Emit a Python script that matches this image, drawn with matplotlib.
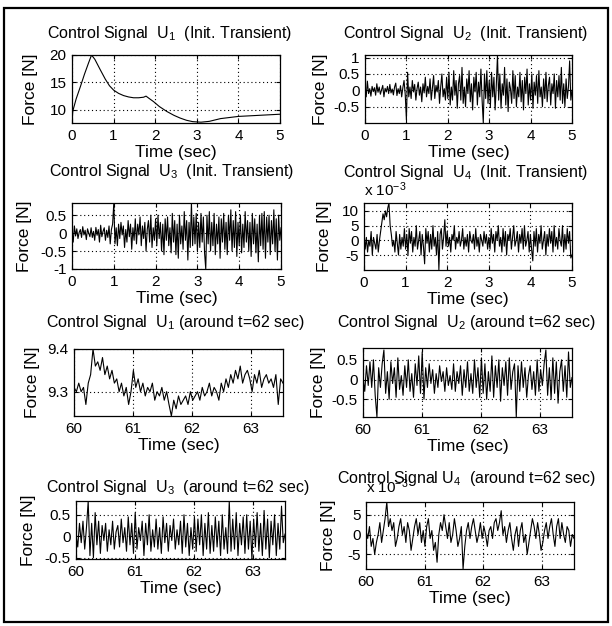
import numpy as np
import matplotlib
matplotlib.use("Agg")
import matplotlib.pyplot as plt
from matplotlib.patches import Rectangle

plt.rcParams['font.family'] = ['Liberation Sans', 'DejaVu Sans']
plt.rcParams['mathtext.fontset'] = 'custom'
plt.rcParams['mathtext.rm'] = 'Liberation Sans'
plt.rcParams['mathtext.it'] = 'Liberation Sans'

W, H = 612, 626

# U1 initial transient (smooth)
u1_init_t = [0, 0.02, 0.1, 0.2, 0.3, 0.4, 0.47, 0.55, 0.68, 0.8, 0.9, 1.0, 1.12, 1.24,
             1.36, 1.48, 1.6, 1.72, 1.78, 1.85, 1.96, 2.1, 2.28, 2.45, 2.6, 2.75, 2.9,
             3.1, 3.3, 3.57, 4.0, 4.5, 5.0]
u1_init = [8.0, 9.8, 12.0, 14.2, 16.5, 18.6, 20.0, 19.2, 17.3, 15.6, 14.4, 13.6, 13.0, 12.6,
           12.35, 12.2, 12.2, 12.3, 12.5, 12.1, 11.5, 10.6, 9.7, 9.0, 8.5, 8.1, 7.85,
           7.75, 7.9, 8.4, 8.8, 9.0, 9.2]

u2_init = [0.0, -0.2, 0.28, -0.1, 0.05, -0.18, 0.12, -0.04, 0.08, -0.15, 0.2, -0.06, 0.1, -0.12,
           0.02, 0.15, -0.2, 0.06, -0.05, 0.12, -0.1, 0.18, -0.08, 0.04, -0.14, 0.1, 0.22, -0.16,
           0.05, -0.1, 0.14, -0.2, 0.08, 0.3, -0.12,
           -0.9, 0.55, -0.2, 0.1, -0.25, 0.3, -0.05, 0.18, -0.3, 0.05, 0.25, -0.15, 0.1, -0.35,
           0.2, -0.08, 0.4, -0.2, 0.12, -0.1, 0.35, -0.3, 0.06, 0.45, -0.25, 0.15, -0.05, 0.3,
           -0.4, 0.1, 0.5, -0.2, 0.05, -0.3, 0.4,
           -0.25, 0.55, -0.45, 0.1, -0.3, 0.6, -0.15, 0.3, -0.55, 0.2, 0.45, -0.3, 0.7, -0.4,
           0.1, -0.5, 0.35, -0.1, 0.6, -0.35, 0.2, -0.6, 0.4, -0.05, 0.55, -0.45, 0.25, -0.2,
           0.65, -0.3, -1.0, 0.5, -0.25, 0.6, -0.4,
           0.3, -0.5, 0.55, -0.2, 0.4, -0.6, 0.15, 1.08, -0.3, 0.5, -0.55, 0.2, -0.15, 0.7,
           -0.45, 0.35, -0.65, 0.25, 0.05, -0.4, 0.6, -0.25, 0.45, -0.5, 0.1, -0.2, 0.55, -0.35,
           0.3, -0.6, 0.4, -0.1, 0.65, -0.45, 0.2,
           -0.3, 0.5, -0.55, 0.25, -0.15, 0.45, -0.4, 0.6, -0.2, 0.1, -0.5, 0.35, -0.25, 0.55,
           -0.35, 0.15, 0.4, -0.45, 0.2, -0.1, 0.5, -0.55, 0.3, -0.2, 0.45, -0.3, 0.7, -0.4,
           0.2, -0.5, 0.35, -0.25, 0.1, 0.9, -0.3, 0.0]

u3_init = [0.05, -0.25, 0.2, -0.08, 0.12, -0.15, 0.02, 0.1, -0.12, 0.18, -0.05, 0.08, -0.18,
           0.12, 0.0, -0.1, 0.15, -0.12, 0.05, -0.2, 0.16, -0.06, 0.1, -0.25, 0.22, -0.1, 0.05,
           0.15, -0.2, 0.08, -0.12, 0.2, -0.3, 0.1, 0.25,
           0.84, -0.3, 0.15, -0.35, 0.25, -0.15, 0.3, -0.05, 0.2, -0.4, 0.1, -0.25, 0.35, -0.1,
           0.25, -0.45, 0.15, -0.2, 0.4, -0.3, 0.25, -0.05, 0.45, -0.35, 0.2, -0.15, 0.3, -0.5,
           0.1, 0.35, -0.25, 0.5, -0.4, 0.15, -0.2,
           0.4, -0.35, 0.5, -0.15, 0.3, -0.5, 0.25, -0.6, 0.4, -0.2, 0.45, -0.35, 0.15, -0.55,
           0.55, -0.25, 0.35, -0.6, 0.25, -0.7, 0.5, -0.3, 0.2, -0.45, 0.6, -0.2, 0.35, -0.75,
           0.3, -0.4, 0.84, -0.35, 0.45, -0.3, 0.55,
           -0.5, 0.3, -0.4, 0.55, -0.25, 0.45, -0.55, -1.0, 0.5, -0.3, 0.6, -0.5, 0.3, -0.35,
           0.55, -0.6, 0.25, -0.3, 0.45, -0.7, 0.4, -0.25, 0.55, -0.45, 0.3, -0.6, 0.5, -0.2,
           0.65, -0.5, 0.35, -0.4, 0.6, -0.65, 0.3,
           -0.35, 0.5, -0.55, 0.25, -0.4, 0.6, -0.25, 0.35, -0.5, 0.3, -0.65, 0.55, -0.3, 0.4,
           -0.55, 0.25, -0.8, 0.5, -0.35, 0.55, -0.45, 0.6, -0.7, 0.45, -0.25, 0.5, -0.6, 0.35,
           -0.3, 0.65, -0.5, 0.4, -0.75, 0.5, -0.2, 0.15]

# U4 values in units of 1e-3 N
u4_init_e3 = [2, -3, 1, -4, 0, -2, 3, -5, 1, -1, -3, 2, -4, 0, 3, 6, 9, 7, 10, 8, 11, 12.7,
              5, 2, -2, 0, -4, 3, -1, -5, 2, -3, 1, -2, 4,
              -3, 2, -5, 4, -1, 3, -4, 1, -2, 5, -3, 0, 3, -5, 2, -2, -8, 4, -1, 3, -4, 2,
              -3, 5, -2, 1, -5, 3, -10, 2, 4, -3, 1, 7, -2,
              3, -2, 1, -4, 2, 0, 5, -3, 1, -1, 3, -2, 0, 4, -3, 1, -2, 2, -4, 3, 0, -1,
              2, -3, 4, -2, 1, -4, 2, 0, -2, 3, -1, 2, -3,
              1, -3, 4, -1, 2, -4, 3, 0, 5, -2, 1, -4, 4, -2, 3, -5, 2, 0, 4, -3, 1, 5,
              -2, 0, 3, -4, 2, -1, 4, -3, 5, -2, 0, 3, -4,
              2, -3, -7, 3, -2, 4, -4, 2, -1, 5, -3, 0, 3, -5, 2, -2, 4, -1, 3, -4, 5, -2,
              1, -3, 4, 0, -2, 5, -4, 2, -3, 4, -1, 3, -6, -5]

u1_62 = [9.31, 9.30, 9.32, 9.30, 9.31, 9.27,
         9.32, 9.34, 9.40, 9.36, 9.37, 9.35, 9.38,
         9.34, 9.36, 9.33, 9.35, 9.32, 9.33, 9.30, 9.32, 9.29, 9.31, 9.27, 9.30,
         9.35, 9.31, 9.33, 9.30, 9.32, 9.29, 9.31, 9.30, 9.32, 9.28, 9.30, 9.29, 9.31,
         9.28, 9.30, 9.27, 9.243, 9.28, 9.26, 9.29, 9.27, 9.28, 9.29, 9.27, 9.30,
         9.28, 9.29, 9.30, 9.28, 9.31, 9.29, 9.30, 9.32, 9.29, 9.31, 9.30, 9.28, 9.32,
         9.30, 9.33, 9.31, 9.34, 9.32, 9.35, 9.33, 9.36, 9.32, 9.34, 9.35, 9.33,
         9.30, 9.34, 9.32, 9.35, 9.31, 9.33, 9.34, 9.32, 9.33, 9.31, 9.34, 9.27, 9.33, 9.32]

u2_62 = [0.05, -0.3, 0.35, -0.15, 0.45, -0.2, 0.5, -0.4, -0.95, 0.3,
         -0.2, 0.4, 0.75, -0.35, 0.2, -0.5, 0.45, -0.1, 0.3, -0.45,
         0.55, -0.25, 0.1, -0.4, 0.35, -0.2, 0.5, -0.3, 0.15, -0.45,
         0.4, -0.15, 0.6, -0.35, 0.7, -0.5, 0.3, -0.2, 0.4, -0.1,
         0.25, -0.35, 0.15, -0.2, 0.35, -0.05, 0.2, -0.3, 0.3, -0.15,
         0.1, -0.25, 0.4, -0.3, 0.2, -0.1, 0.35, -0.4, 0.25, -0.2,
         0.45, -0.3, 0.15, -0.35, 0.5, -0.2, 0.3, -0.45, 0.55, -0.35,
         0.4, -0.5, 0.2, -0.3, 0.6, -0.45, 0.35, -0.2, 0.5, -0.55,
         0.3, -0.15, 0.45, -0.4, 0.55, -0.25, 0.2, 0.4, -0.95, 0.35,
         -0.3, 0.45, -0.2, 0.3, -0.45, 0.1, 0.35, -0.25, 0.2, -0.4,
         0.5, -0.3, 0.25, -0.15, 0.4, 0.75, -0.4, 0.3, -0.5, 0.55,
         -0.35, 0.45, -0.6, 0.2, 0.5, -0.3, 0.35, -0.45, 0.7, -0.2, 0.05]

u3_62 = [0.05, -0.25, 0.3, -0.15, 0.35, -0.3, 0.2, 0.82, -0.45, 0.3,
         -0.5, 0.55, -0.2, 0.35, -0.4, 0.25, -0.1, 0.3, -0.35, 0.15,
         -0.2, 0.35, -0.3, 0.1, 0.25, -0.25, 0.4, -0.15, 0.2, -0.35,
         0.45, -0.2, 0.3, -0.4, 0.55, -0.3, 0.2, -0.1, 0.35, -0.45,
         0.3, -0.2, 0.5, -0.35, 0.15, -0.25, 0.4, -0.3, 0.2, -0.4,
         0.45, -0.15, 0.3, -0.35, 0.25, -0.1, 0.4, -0.3, 0.15, -0.2,
         0.35, -0.4, 0.5, -0.25, 0.3, -0.45, 0.2, -0.3, 0.45, -0.35,
         0.4, -0.2, 0.5, -0.45, 0.3, -0.3, 0.55, -0.4, 0.25, -0.35,
         0.45, -0.25, 0.35, -0.45, 0.5, -0.3, 0.2, -0.4, 0.82, -0.35,
         0.4, -0.3, 0.55, -0.45, 0.3, -0.2, 0.45, -0.4, 0.5, -0.3,
         0.35, -0.53, 0.4, -0.25, 0.55, -0.35, 0.3, -0.45, 0.6, -0.3,
         0.4, -0.5, 0.35, -0.2, 0.5, -0.45, 0.3, -0.3, 0.7, -0.15, 0.05]

u4_62_e3 = [1, -1, 2, -3, -1, -5, -2, 0, 3, -2,
            1, 4, 8.2, 2, 4, 1, 3, -3, -1, 2,
            4, 0, 2, -2, 3, 1, -4, -1, 2, 4,
            0, 3, -2, 1, -3, 2, 4, -1, 1, -4,
            -2, -7, 0, 3, 1, 5, 2, -1, 3, -2,
            0, 4, 1, -3, -1, 2, -8.7, -3, 1, 3,
            -1, 2, 4, 1, -2, 0, 3, -1, 2, 0,
            -3, 1, 2, -1, 3, 4, 1, 3, 6, 0,
            2, -2, 1, 3, -1, -4, 0, 2, -3, 1,
            3, -2, 0, -5, -2, 1, 4, 2, -1, 3,
            0, -4, -2, 1, 3, -1, 2, 4, 0, -3,
            2, 4, -1, 3, 0, -2, 2, 1, -3, 0, -1]

titles = ['Control Signal  U$_1$  (Init. Transient)',
          'Control Signal  U$_2$  (Init. Transient)',
          'Control Signal  U$_3$  (Init. Transient)',
          'Control Signal  U$_4$  (Init. Transient)',
          'Control Signal  U$_1$ (around t=62 sec)',
          'Control Signal  U$_2$ (around t=62 sec)',
          'Control Signal  U$_3$  (around t=62 sec)',
          'Control Signal U$_4$  (around t=62 sec)']

# axes boxes in pixels: left, top, right, bottom
boxes = [(72, 55, 280, 123), (365, 55, 572, 123),
         (72, 203, 281, 269), (364, 203, 572, 270),
         (74, 349, 283, 416), (363, 348, 572, 417),
         (76, 501, 285, 559), (366, 502, 574, 569)]
title_pos = [(170, 38), (466, 38), (172, 176), (466, 177),
             (176, 327), (467, 327), (178, 492), (467, 483)]
# centre of the rotated y label, in pixels
ylabel_x = [30, 321, 25, 324, 32, 319, 28, 329]

series = [(u1_init_t, u1_init), (None, u2_init), (None, u3_init), (None, u4_init_e3),
          (None, u1_62), (None, u2_62), (None, u3_62), (None, u4_62_e3)]
ylims = [(7.6, 20), (-1.0, 1.08), (-1.0, 0.84), (-10.1, 12.7),
         (9.243, 9.4), (-0.95, 0.8), (-0.53, 0.82), (-8.7, 8.2)]
yticks = [[10, 15, 20], [-0.5, 0, 0.5, 1], [-1, -0.5, 0, 0.5], [-5, 0, 5, 10],
          [9.3, 9.4], [-0.5, 0, 0.5], [-0.5, 0, 0.5], [-5, 0, 5]]
ytlabels = [['10', '15', '20'], ['-0.5', '0', '0.5', '1'], ['-1', '-0.5', '0', '0.5'],
            ['-5', '0', '5', '10'], ['9.3', '9.4'], ['-0.5', '0', '0.5'],
            ['-0.5', '0', '0.5'], ['-5', '0', '5']]

fig = plt.figure(figsize=(W / 100, H / 100), dpi=100)


def px(x, y):
    return x / W, 1 - y / H


for i, (l, t, r, b) in enumerate(boxes):
    ax = fig.add_axes([l / W, 1 - b / H, (r - l) / W, (b - t) / H])
    tt, vals = series[i]
    if i < 4:
        xlim = (0, 5)
        xticks = [0, 1, 2, 3, 4, 5]
    else:
        xlim = (60, 63.55)
        xticks = [60, 61, 62, 63]
    if tt is None:
        tt = np.linspace(xlim[0], xlim[1], len(vals))
    ax.plot(tt, vals, color='black', lw=0.8)
    ax.set_xlim(*xlim)
    ax.set_ylim(*ylims[i])
    ax.set_xticks(xticks)
    ax.set_xticklabels([str(v) for v in xticks])
    ax.set_yticks(yticks[i])
    ax.set_yticklabels(ytlabels[i])
    ax.grid(True, color='black', linestyle=(0, (1, 2.5)), lw=0.8)
    ax.tick_params(direction='in', length=3, top=True, right=True, labelsize=11, pad=4, width=0.8)
    for s in ax.spines.values():
        s.set_linewidth(0.9)
    ax.set_xlabel('Time (sec)', fontsize=12.5, labelpad=1.5)
    ax.set_ylabel('Force [N]', fontsize=12.5, va='center')
    ax.yaxis.set_label_coords((ylabel_x[i] - l) / (r - l), 0.5)
    cx, cy = title_pos[i]
    fig.text(*px(cx, cy), titles[i], ha='center', va='baseline', fontsize=11.5)

# exponent labels for U4 panels
fig.text(*px(364, 196), r'x 10$^{-3}$', ha='left', va='baseline', fontsize=11)
fig.text(*px(366, 493), r'x 10$^{-3}$', ha='left', va='baseline', fontsize=11)

fig.patches.append(Rectangle((4 / W, 4 / H), 604 / W, 614 / H, transform=fig.transFigure,
                             fill=False, edgecolor='black', lw=1.6))

fig.savefig('out.png', dpi=100)
